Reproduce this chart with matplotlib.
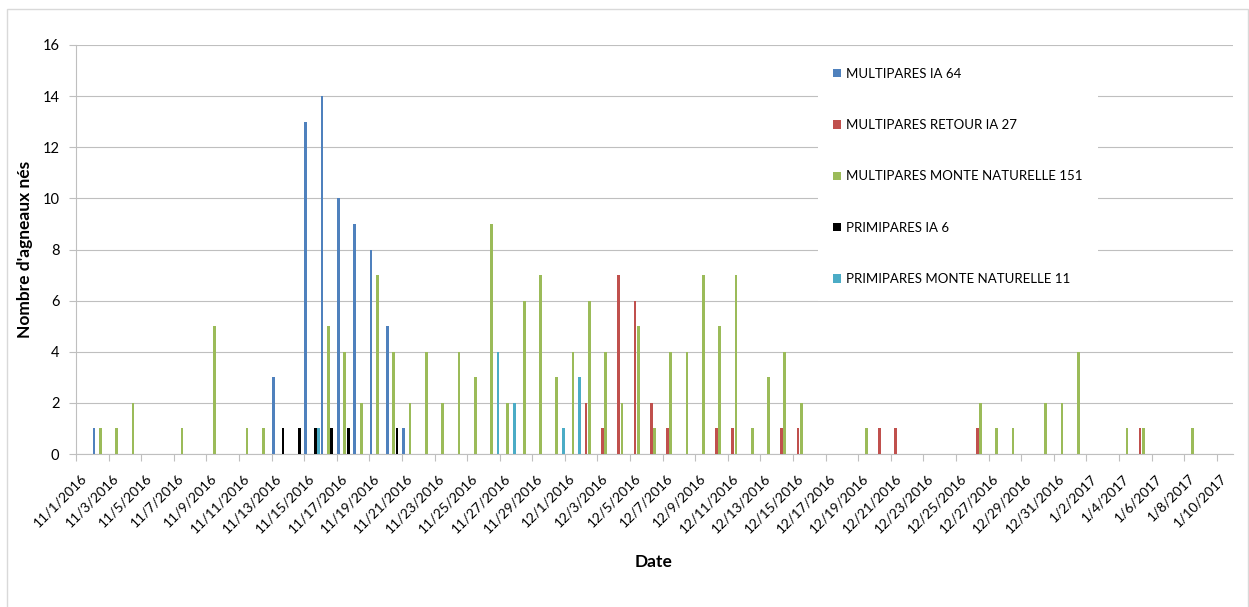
import numpy as np
import pandas as pd
import matplotlib
matplotlib.use('Agg')
import matplotlib.pyplot as plt
from matplotlib.patches import Patch, Rectangle

# one category per day, 1 Nov 2016 -> 10 Jan 2017
dates = pd.date_range('2016-11-01', '2017-01-10', freq='D')
date_labels = [f'{d.month}/{d.day}/{d.year}' for d in dates]

series_names = ['MULTIPARES IA 64', 'MULTIPARES RETOUR IA 27',
                'MULTIPARES MONTE NATURELLE 151', 'PRIMIPARES IA 6',
                'PRIMIPARES MONTE NATURELLE 11']

multi_ia = [0, 1, 0, 0, 0, 0, 0, 0, 0, 0,
            0, 0, 3, 0, 13, 14, 10, 9, 8, 5,
            1, 0, 0, 0, 0, 0, 0, 0, 0, 0,
            0, 0, 0, 0, 0, 0, 0, 0, 0, 0,
            0, 0, 0, 0, 0, 0, 0, 0, 0, 0,
            0, 0, 0, 0, 0, 0, 0, 0, 0, 0,
            0, 0, 0, 0, 0, 0, 0, 0, 0, 0, 0]

multi_retour_ia = [0, 0, 0, 0, 0, 0, 0, 0, 0, 0,
                   0, 0, 0, 0, 0, 0, 0, 0, 0, 0,
                   0, 0, 0, 0, 0, 0, 0, 0, 0, 0,
                   0, 2, 1, 7, 6, 2, 1, 0, 0, 1,
                   1, 0, 0, 1, 1, 0, 0, 0, 0, 1,
                   1, 0, 0, 0, 0, 1, 0, 0, 0, 0,
                   0, 0, 0, 0, 0, 1, 0, 0, 0, 0, 0]

multi_monte = [0, 1, 1, 2, 0, 0, 1, 0, 5, 0,
               1, 1, 0, 0, 0, 5, 4, 2, 7, 4,
               2, 4, 2, 4, 3, 9, 2, 6, 7, 3,
               4, 6, 4, 2, 5, 1, 4, 4, 7, 5,
               7, 1, 3, 4, 2, 0, 0, 0, 1, 0,
               0, 0, 0, 0, 0, 2, 1, 1, 0, 2,
               2, 4, 0, 0, 1, 1, 0, 0, 1, 0, 0]

primi_ia = [0, 0, 0, 0, 0, 0, 0, 0, 0, 0,
            0, 0, 1, 1, 1, 1, 1, 0, 0, 1,
            0, 0, 0, 0, 0, 0, 0, 0, 0, 0,
            0, 0, 0, 0, 0, 0, 0, 0, 0, 0,
            0, 0, 0, 0, 0, 0, 0, 0, 0, 0,
            0, 0, 0, 0, 0, 0, 0, 0, 0, 0,
            0, 0, 0, 0, 0, 0, 0, 0, 0, 0, 0]

primi_monte = [0, 0, 0, 0, 0, 0, 0, 0, 0, 0,
               0, 0, 0, 0, 1, 0, 0, 0, 0, 0,
               0, 0, 0, 0, 0, 4, 2, 0, 0, 1,
               3, 0, 0, 0, 0, 0, 0, 0, 0, 0,
               0, 0, 0, 0, 0, 0, 0, 0, 0, 0,
               0, 0, 0, 0, 0, 0, 0, 0, 0, 0,
               0, 0, 0, 0, 0, 0, 0, 0, 0, 0, 0]

colors = ['#4f81bd', '#c0504d', '#9bbb59', '#000000', '#4bacc6']
grey = '#bfbfbf'

plt.rcParams['font.family'] = ['Lato', 'DejaVu Sans']

fig = plt.figure(figsize=(12.49, 6.07), dpi=100)
ax = fig.add_axes([76 / 1249, 1 - 454 / 607, 1157 / 1249, 409 / 607])

x = np.arange(len(dates))
all_series = [multi_ia, multi_retour_ia, multi_monte, primi_ia, primi_monte]
for k, (vals, col) in enumerate(zip(all_series, colors)):
    ax.bar(x + (k - 2) * 0.2, vals, width=0.17, color=col, zorder=3)

ax.set_xlim(-0.5, len(dates) - 0.5)
ax.set_ylim(0, 16)
ax.set_yticks(range(0, 17, 2))
ax.grid(axis='y', color=grey, lw=0.8)
ax.set_axisbelow(True)

for side in ['top', 'right']:
    ax.spines[side].set_visible(False)
for side in ['left', 'bottom']:
    ax.spines[side].set_color(grey)
    ax.spines[side].set_linewidth(0.8)

# labels every second day, tick marks on the category boundaries
ax.set_xticks(x[::2])
ax.set_xticklabels(date_labels[::2])
ax.set_xticks(x[::2] - 0.5, minor=True)
ax.tick_params(axis='x', which='major', length=0, pad=16, labelsize=10)
ax.tick_params(axis='x', which='minor', length=5, color=grey, width=0.8)
plt.setp(ax.get_xticklabels(), rotation=45, ha='right', va='center',
         rotation_mode='anchor')
ax.tick_params(axis='y', length=5, color=grey, width=0.8, pad=7, labelsize=10.5)

handles = [Patch(facecolor=c, edgecolor='none') for c in colors]
ax.legend(handles, series_names, loc='upper left', bbox_to_anchor=(0.641, 0.983),
          frameon=True, fancybox=False, edgecolor='none', facecolor='white',
          framealpha=1, fontsize=9.5, handlelength=0.6, handleheight=0.6,
          handletextpad=0.35, labelspacing=2.98, borderpad=1.2, borderaxespad=0)

fig.text(25 / 1249, 1 - 249.5 / 607, "Nombre d'agneaux nés", rotation=90,
         ha='center', va='center', fontsize=12.5, fontweight='bold')
fig.text(654 / 1249, 1 - 562 / 607, 'Date', ha='center', va='center',
         fontsize=12.5, fontweight='bold')

# chart area frame
fig.add_artist(Rectangle((7 / 1249, -0.05), 1240.5 / 1249, 1 - 9 / 607 + 0.05,
                         transform=fig.transFigure, fill=False,
                         edgecolor='#d9d9d9', lw=1))

fig.savefig('out.png', dpi=100)
